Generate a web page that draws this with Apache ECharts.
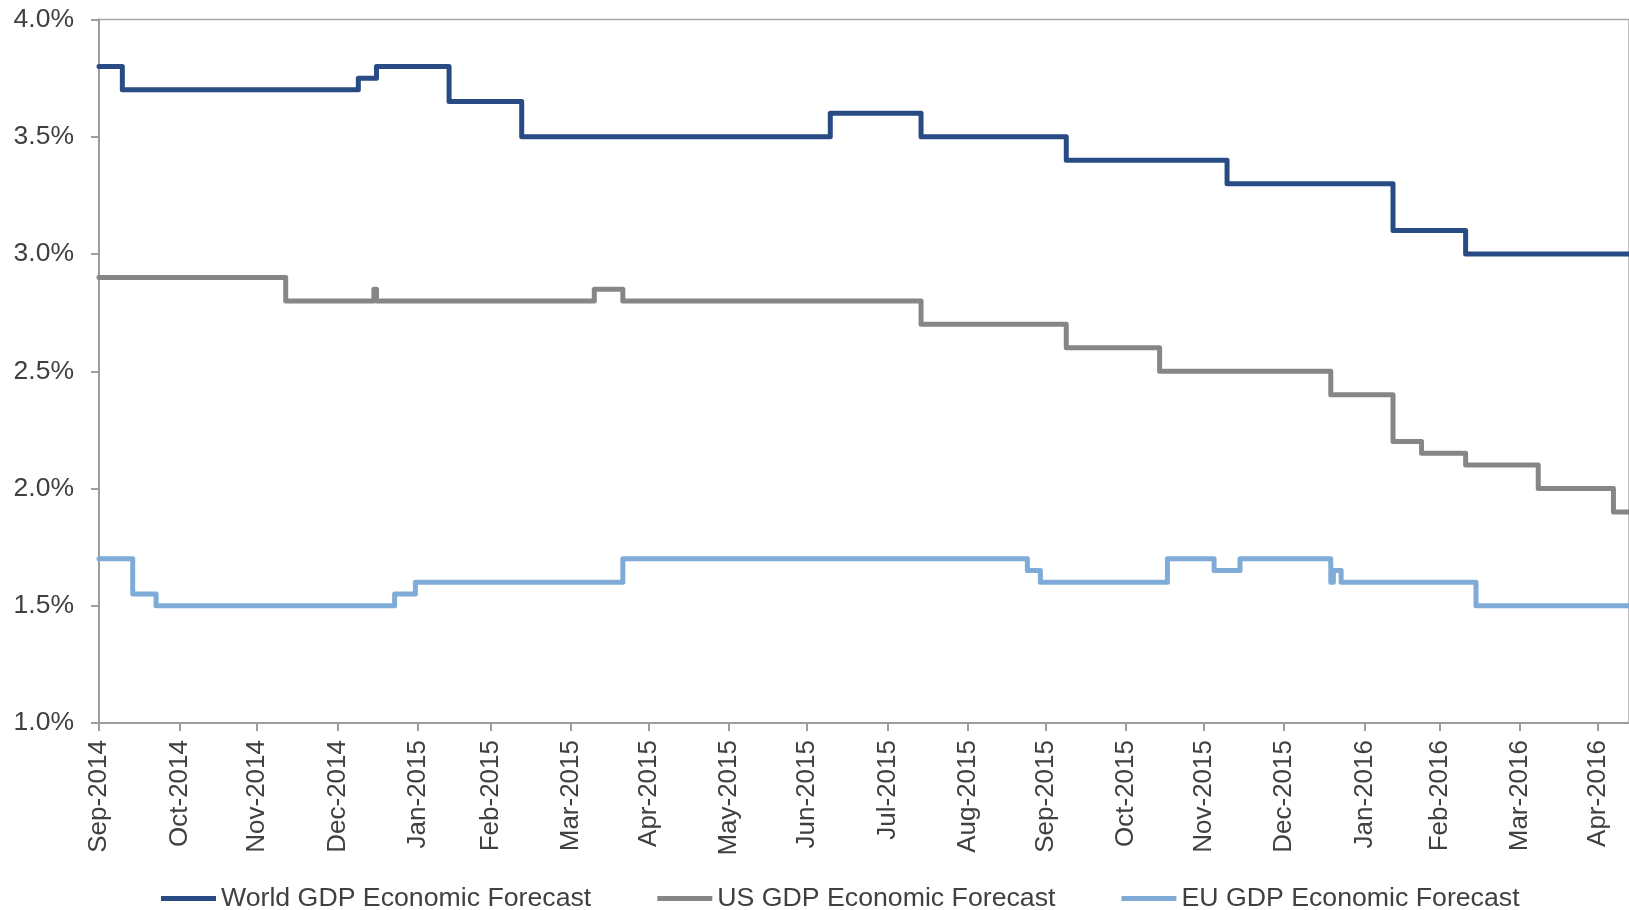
<!DOCTYPE html>
<html>
<head>
<meta charset="utf-8">
<script src="https://cdn.jsdelivr.net/npm/echarts@6/dist/echarts.min.js"></script>
<style>
  html, body { margin: 0; padding: 0; background: #ffffff; }
  #chart { width: 1629px; height: 910px; }
</style>
</head>
<body>
<div id="chart"></div>
<script>
// ---- Data ----
const tickDates = ['2014-09-30','2014-10-31','2014-11-30','2014-12-31','2015-01-31','2015-02-28','2015-03-31','2015-04-30','2015-05-31','2015-06-30','2015-07-31','2015-08-31','2015-09-30','2015-10-31','2015-11-30','2015-12-31','2016-01-31','2016-02-29','2016-03-31','2016-04-30'];
const tickLabels = ['Sep-2014','Oct-2014','Nov-2014','Dec-2014','Jan-2015','Feb-2015','Mar-2015','Apr-2015','May-2015','Jun-2015','Jul-2015','Aug-2015','Sep-2015','Oct-2015','Nov-2015','Dec-2015','Jan-2016','Feb-2016','Mar-2016','Apr-2016'];
const yTicks = [1.0, 1.5, 2.0, 2.5, 3.0, 3.5, 4.0];

const worldDates  = ['2014-09-30','2014-10-09','2015-01-08','2015-01-15','2015-02-12','2015-03-12','2015-07-09','2015-08-13','2015-10-08','2015-12-09','2016-02-11','2016-03-10','2016-05-12'];
const worldValues = [3.8, 3.7, 3.75, 3.8, 3.65, 3.5, 3.6, 3.5, 3.4, 3.3, 3.1, 3.0, 3.0];

const usDates  = ['2014-09-30','2014-12-11','2015-01-14','2015-01-15','2015-04-09','2015-04-20','2015-08-13','2015-10-08','2015-11-13','2016-01-18','2016-02-11','2016-02-22','2016-03-10','2016-04-07','2016-05-06','2016-05-12'];
const usValues = [2.9, 2.8, 2.85, 2.8, 2.85, 2.8, 2.7, 2.6, 2.5, 2.4, 2.2, 2.15, 2.1, 2.0, 1.9, 1.9];

const euDates  = ['2014-09-30','2014-10-13','2014-10-22','2015-01-22','2015-01-30','2015-04-20','2015-09-23','2015-09-28','2015-11-16','2015-12-04','2015-12-14','2016-01-18','2016-01-19','2016-01-22','2016-03-14','2016-05-12'];
const euValues = [1.7, 1.55, 1.5, 1.55, 1.6, 1.7, 1.65, 1.6, 1.7, 1.65, 1.7, 1.6, 1.65, 1.6, 1.5, 1.5];

const seriesNames = ['World GDP Economic Forecast', 'US GDP Economic Forecast', 'EU GDP Economic Forecast'];
const axisStart = '2014-09-30';
const axisEnd = '2016-05-12';

// ---- Helpers ----
function ts(s) { const p = s.split('-').map(Number); return Date.UTC(p[0], p[1] - 1, p[2]); }
function pairs(dates, values) { return dates.map((d, i) => [ts(d), values[i]]); }
const tickTs = tickDates.map(ts);

const FONT = 'Liberation Sans, Arial, sans-serif';
const TEXT = '#404040';
const AXIS = '#9d9d9d';

const chart = echarts.init(document.getElementById('chart'), null, { renderer: 'canvas' });

function makeSeries(name, data, color) {
  return {
    name: name,
    type: 'line',
    step: 'end',
    symbol: 'none',
    color: color,
    data: data,
    lineStyle: { width: 5, color: color, join: 'round', cap: 'round' },
    emphasis: { disabled: true },
    animation: false
  };
}

chart.setOption({
  animation: false,
  backgroundColor: '#ffffff',
  grid: {
    left: 99, top: 19.5, right: -3, bottom: 187,
    show: true, borderColor: '#a8a8a8', borderWidth: 1.5, backgroundColor: 'transparent'
  },
  legend: {
    left: 161, top: 885, padding: 0,
    itemWidth: 55, itemHeight: 5, itemGap: 66,
    icon: 'rect',
    data: seriesNames,
    textStyle: { fontFamily: FONT, fontSize: 26.7, color: TEXT }
  },
  xAxis: {
    type: 'value',
    min: ts(axisStart),
    max: ts(axisEnd),
    scale: true,
    splitLine: { show: false },
    axisLine: { show: true, onZero: false, lineStyle: { color: AXIS, width: 2 } },
    axisTick: { show: true, length: 8, customValues: tickTs, lineStyle: { color: AXIS, width: 2 } },
    axisLabel: {
      show: true,
      customValues: tickTs,
      rotate: 90,
      margin: 17,
      fontFamily: FONT, fontSize: 26, color: TEXT,
      formatter: function (v) {
        const i = tickTs.indexOf(v);
        return i >= 0 ? tickLabels[i] : '';
      }
    }
  },
  yAxis: {
    type: 'value',
    min: yTicks[0], max: yTicks[yTicks.length - 1], interval: 0.5,
    splitLine: { show: false },
    axisLine: { show: true, lineStyle: { color: AXIS, width: 2 } },
    axisTick: { show: true, length: 8, lineStyle: { color: AXIS, width: 2 } },
    axisLabel: {
      margin: 25,
      fontFamily: FONT, fontSize: 26.5, color: TEXT,
      formatter: function (v) { return v.toFixed(1) + '%'; }
    }
  },
  series: [
    makeSeries(seriesNames[0], pairs(worldDates, worldValues), '#284b84'),
    makeSeries(seriesNames[1], pairs(usDates, usValues), '#868686'),
    makeSeries(seriesNames[2], pairs(euDates, euValues), '#7eabd7')
  ]
});
</script>
</body>
</html>
